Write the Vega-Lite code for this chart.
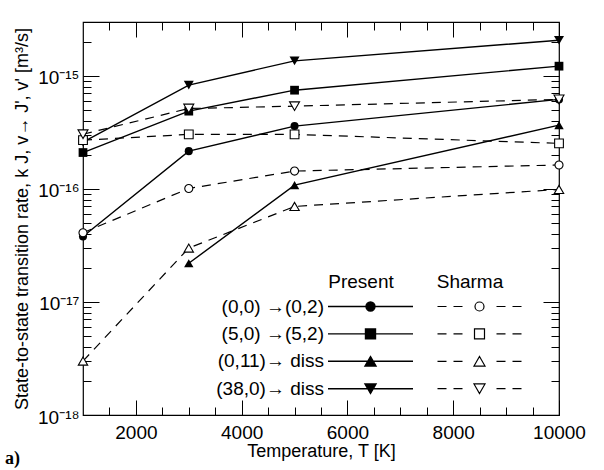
{
  "$schema": "https://vega.github.io/schema/vega-lite/v6.json",
  "autosize": {"type": "none"},
  "width": 476,
  "height": 393,
  "padding": {"left": 83, "top": 22, "right": 45, "bottom": 55},
  "background": "white",
  "title": {"text": "a)", "orient": "bottom", "anchor": "start", "frame": "bounds", "font": "Liberation Serif", "fontSize": 18, "fontWeight": "bold", "color": "black", "offset": 0, "dx": -8, "dy": -10},
  "config": {
    "font": "Liberation Sans",
    "view": {"stroke": "black", "strokeWidth": 1.2},
    "axis": {"grid": false, "domain": false, "tickColor": "black", "tickWidth": 1, "labelColor": "black", "titleColor": "black", "labelFont": "Liberation Sans", "titleFont": "Liberation Sans", "titleFontWeight": "normal", "labelFontSize": 19, "titleFontSize": 18, "labelFlush": false, "labelOverlap": false},
    "legend": {"labelColor": "black", "titleColor": "black", "titleFontWeight": "normal", "labelFontSize": 19, "titleFontSize": 19, "labelFont": "Liberation Sans", "titleFont": "Liberation Sans"}
  },
  "datasets": {
    "present": [
      {"T": 1000, "k": 3.8e-17, "series": "(0,0) →(0,2)"},
      {"T": 3000, "k": 2.16e-16, "series": "(0,0) →(0,2)"},
      {"T": 5000, "k": 3.6e-16, "series": "(0,0) →(0,2)"},
      {"T": 10000, "k": 6.2e-16, "series": "(0,0) →(0,2)"},
      {"T": 1000, "k": 2.1e-16, "series": "(5,0) →(5,2)"},
      {"T": 3000, "k": 4.88e-16, "series": "(5,0) →(5,2)"},
      {"T": 5000, "k": 7.48e-16, "series": "(5,0) →(5,2)"},
      {"T": 10000, "k": 1.22e-15, "series": "(5,0) →(5,2)"},
      {"T": 3000, "k": 2.2e-17, "series": "(0,11)→ diss"},
      {"T": 5000, "k": 1.08e-16, "series": "(0,11)→ diss"},
      {"T": 10000, "k": 3.67e-16, "series": "(0,11)→ diss"},
      {"T": 1000, "k": 2.6e-16, "series": "(38,0)→ diss"},
      {"T": 3000, "k": 8.3e-16, "series": "(38,0)→ diss"},
      {"T": 5000, "k": 1.36e-15, "series": "(38,0)→ diss"},
      {"T": 10000, "k": 2.07e-15, "series": "(38,0)→ diss"}
    ],
    "sharma": [
      {"T": 1000, "k": 4.1e-17, "series": "(0,0) →(0,2)"},
      {"T": 3000, "k": 1.01e-16, "series": "(0,0) →(0,2)"},
      {"T": 5000, "k": 1.44e-16, "series": "(0,0) →(0,2)"},
      {"T": 10000, "k": 1.63e-16, "series": "(0,0) →(0,2)"},
      {"T": 1000, "k": 2.7e-16, "series": "(5,0) →(5,2)"},
      {"T": 3000, "k": 3.04e-16, "series": "(5,0) →(5,2)"},
      {"T": 5000, "k": 3.04e-16, "series": "(5,0) →(5,2)"},
      {"T": 10000, "k": 2.53e-16, "series": "(5,0) →(5,2)"},
      {"T": 1000, "k": 3.0e-18, "series": "(0,11)→ diss"},
      {"T": 3000, "k": 3.0e-17, "series": "(0,11)→ diss"},
      {"T": 5000, "k": 7.0e-17, "series": "(0,11)→ diss"},
      {"T": 10000, "k": 9.9e-17, "series": "(0,11)→ diss"},
      {"T": 1000, "k": 3.05e-16, "series": "(38,0)→ diss"},
      {"T": 3000, "k": 5.15e-16, "series": "(38,0)→ diss"},
      {"T": 5000, "k": 5.4e-16, "series": "(38,0)→ diss"},
      {"T": 10000, "k": 6.2e-16, "series": "(38,0)→ diss"}
    ]
  },
  "layer": [
    {
      "data": {"name": "present"},
      "mark": {"type": "line", "color": "black", "strokeWidth": 1.4},
      "encoding": {
        "x": {"field": "T", "type": "quantitative", "scale": {"domain": [1000, 10000], "nice": false, "zero": false},
          "axis": {"orient": "bottom", "values": [2000, 4000, 6000, 8000, 10000], "format": "d", "ticks": false, "labelPadding": 8, "title": "Temperature, T  [K]", "titleBaseline": "alphabetic", "titleY": 41}},
        "y": {"field": "k", "type": "quantitative", "scale": {"type": "log", "domain": [1e-18, 3e-15], "nice": false},
          "axis": {"orient": "left", "values": [1e-18, 1e-17, 1e-16, 1e-15], "ticks": false, "labelPadding": 4, "labelOffset": 2,
            "labelExpr": "datum.value < 5e-18 ? '10⁻¹⁸' : datum.value < 5e-17 ? '10⁻¹⁷' : datum.value < 5e-16 ? '10⁻¹⁶' : '10⁻¹⁵'",
            "title": "State-to-state transition rate, k J, v→ J', v'  [m³/s]", "titleFontSize": 18, "titleBaseline": "alphabetic", "titleX": -56}},
        "detail": {"field": "series"}
      }
    },
    {
      "data": {"name": "sharma"},
      "mark": {"type": "line", "color": "black", "strokeWidth": 1.2, "strokeDash": [9, 7]},
      "encoding": {
        "x": {"field": "T", "type": "quantitative", "axis": {"orient": "bottom", "values": [2000, 4000, 6000, 8000, 10000], "tickSize": -15, "labels": false, "title": null}},
        "y": {"field": "k", "type": "quantitative", "axis": {"orient": "left", "values": [1e-18, 1e-17, 1e-16, 1e-15], "tickSize": -16, "labels": false, "title": null}},
        "detail": {"field": "series"}
      }
    },
    {
      "data": {"name": "present"},
      "mark": {"type": "point", "filled": true, "color": "black", "opacity": 1},
      "encoding": {
        "x": {"field": "T", "type": "quantitative", "axis": {"orient": "bottom", "values": [1500, 2500, 3000, 3500, 4500, 5000, 5500, 6500, 7000, 7500, 8500, 9000, 9500], "tickSize": -8, "labels": false, "title": null}},
        "y": {"field": "k", "type": "quantitative", "axis": {"orient": "left", "values": [2e-18, 3e-18, 4e-18, 5e-18, 6e-18, 7e-18, 8e-18, 9e-18, 2e-17, 3e-17, 4e-17, 5e-17, 6e-17, 7e-17, 8e-17, 9e-17, 2e-16, 3e-16, 4e-16, 5e-16, 6e-16, 7e-16, 8e-16, 9e-16, 2e-15], "tickSize": -8, "labels": false, "title": null}},
        "shape": {"field": "series", "type": "nominal", "scale": {"domain": ["(0,0) →(0,2)", "(5,0) →(5,2)", "(0,11)→ diss", "(38,0)→ diss"], "range": ["circle", "square", "triangle-up", "triangle-down"]}, "legend": null},
        "size": {"field": "series", "type": "nominal", "scale": {"domain": ["(0,0) →(0,2)", "(5,0) →(5,2)", "(0,11)→ diss", "(38,0)→ diss"], "range": [65, 100, 115, 115]}, "legend": null}
      }
    },
    {
      "data": {"name": "sharma"},
      "mark": {"type": "point", "filled": true, "fill": "white", "stroke": "black", "strokeWidth": 1.1, "opacity": 1},
      "encoding": {
        "x": {"field": "T", "type": "quantitative", "axis": {"orient": "top", "values": [2000, 4000, 6000, 8000, 10000], "tickSize": -15, "labels": false, "title": null}},
        "y": {"field": "k", "type": "quantitative", "axis": {"orient": "right", "values": [1e-18, 1e-17, 1e-16, 1e-15], "tickSize": -16, "labels": false, "title": null}},
        "shape": {"field": "series", "type": "nominal", "scale": {"domain": ["(0,0) →(0,2)", "(5,0) →(5,2)", "(0,11)→ diss", "(38,0)→ diss"], "range": ["circle", "square", "triangle-up", "triangle-down"]}, "legend": null},
        "size": {"field": "series", "type": "nominal", "legend": null}
      }
    },
    {
      "data": {"name": "present"},
      "transform": [{"filter": "false"}],
      "mark": {"type": "point", "filled": true, "fill": "black", "stroke": "black", "strokeWidth": 1.4, "opacity": 1},
      "encoding": {
        "x": {"field": "T", "type": "quantitative", "axis": {"orient": "top", "values": [1500, 2500, 3000, 3500, 4500, 5000, 5500, 6500, 7000, 7500, 8500, 9000, 9500], "tickSize": -8, "labels": false, "title": null}},
        "y": {"field": "k", "type": "quantitative", "axis": {"orient": "right", "values": [2e-18, 3e-18, 4e-18, 5e-18, 6e-18, 7e-18, 8e-18, 9e-18, 2e-17, 3e-17, 4e-17, 5e-17, 6e-17, 7e-17, 8e-17, 9e-17, 2e-16, 3e-16, 4e-16, 5e-16, 6e-16, 7e-16, 8e-16, 9e-16, 2e-15], "tickSize": -8, "labels": false, "title": null}},
        "shape": {"field": "series", "type": "nominal",
          "scale": {"domain": ["(0,0) →(0,2)", "(5,0) →(5,2)", "(0,11)→ diss", "(38,0)→ diss"],
            "range": [
              "M-8.5,0H8.5M0.9,0A0.9,0.9,0,1,1,-0.9,0A0.9,0.9,0,1,1,0.9,0Z",
              "M-8.5,0H8.5M-1,-1H1V1H-1Z",
              "M-8.5,0H8.5M0,-0.95L1.1,0.95L-1.1,0.95Z",
              "M-8.5,0H8.5M0,0.95L1.1,-0.95L-1.1,-0.95Z"
            ]},
          "legend": {"orient": "none", "legendX": 245, "legendY": 251, "title": "Present", "titleAlign": "center", "titlePadding": 5, "direction": "vertical", "symbolSize": 100, "symbolStrokeWidth": 1.4, "labelAlign": "right", "labelOffset": -56, "rowPadding": 7.4, "padding": 0}}
      }
    },
    {
      "data": {"name": "sharma"},
      "transform": [{"filter": "false"}],
      "mark": {"type": "point", "filled": true, "fill": "white", "stroke": "black", "strokeWidth": 1.2, "opacity": 1},
      "encoding": {
        "shape": {"field": "series", "type": "nominal",
          "scale": {"domain": ["(0,0) →(0,2)", "(5,0) →(5,2)", "(0,11)→ diss", "(38,0)→ diss"],
            "range": [
              "M-8.4,0H-6.6M-5.2,0H-3.4M3.4,0H5.2M6.6,0H8.4M0.9,0A0.9,0.9,0,1,1,-0.9,0A0.9,0.9,0,1,1,0.9,0Z",
              "M-8.4,0H-6.6M-5.2,0H-3.4M3.4,0H5.2M6.6,0H8.4M-1,-1H1V1H-1Z",
              "M-8.4,0H-6.6M-5.2,0H-3.4M3.4,0H5.2M6.6,0H8.4M0,-0.95L1.1,0.95L-1.1,0.95Z",
              "M-8.4,0H-6.6M-5.2,0H-3.4M3.4,0H5.2M6.6,0H8.4M0,0.95L1.1,-0.95L-1.1,-0.95Z"
            ]},
          "legend": {"orient": "none", "legendX": 354, "legendY": 251, "title": "Sharma", "titleAlign": "center", "titlePadding": 5, "direction": "vertical", "symbolSize": 100, "symbolStrokeWidth": 1.2, "labelExpr": "''", "rowPadding": 7.4, "padding": 0}}
      }
    }
  ],
  "resolve": {
    "scale": {"shape": "independent"},
    "axis": {"x": "independent", "y": "independent"},
    "legend": {"shape": "independent"}
  }
}
